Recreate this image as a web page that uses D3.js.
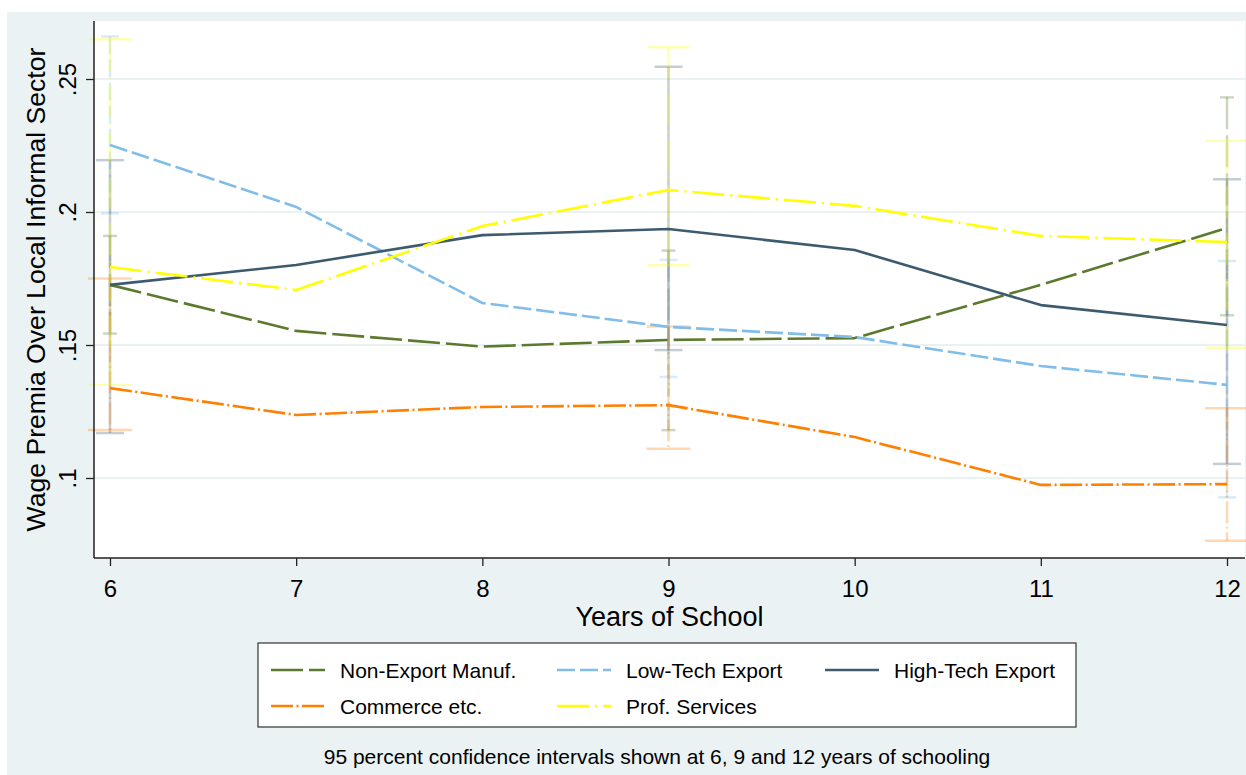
<!DOCTYPE html>
<html>
<head>
<meta charset="utf-8">
<script src="https://cdn.jsdelivr.net/npm/d3@7/dist/d3.min.js"></script>
<style>
  html, body { margin: 0; padding: 0; background: #ffffff; }
  svg { display: block; }
  text { font-family: "Liberation Sans", Arial, Helvetica, sans-serif; fill: #000; }
</style>
</head>
<body>
<svg id="chart" width="1246" height="775"></svg>
<script>
// Years of schooling on the x axis
const years = [6, 7, 8, 9, 10, 11, 12];

// Estimated wage premia by sector
const nonExport    = [0.1726, 0.1553, 0.1494, 0.1519, 0.1526, 0.1726, 0.1940];
const lowTech      = [0.2252, 0.2019, 0.1658, 0.1568, 0.1530, 0.1421, 0.1350];
const highTech     = [0.1726, 0.1801, 0.1913, 0.1936, 0.1857, 0.1650, 0.1575];
const commerce     = [0.1338, 0.1237, 0.1267, 0.1274, 0.1154, 0.0974, 0.0977];
const profServices = [0.1793, 0.1707, 0.1947, 0.2083, 0.2023, 0.1910, 0.1887];

// 95% confidence intervals [low, high] at selected years
const ciYears = [6, 9, 12];
const nonExportCI    = [[0.1543, 0.1910], [0.1180, 0.1855], [0.1612, 0.2431]];
const lowTechCI      = [[0.1995, 0.2660], [0.1380, 0.1820], [0.0927, 0.1816]];
const highTechCI     = [[0.1169, 0.2195], [0.1481, 0.2546], [0.1053, 0.2123]];
const commerceCI     = [[0.1180, 0.1750], [0.1110, 0.1570], [0.0764, 0.1262]];
const profServicesCI = [[0.1351, 0.2649], [0.1800, 0.2619], [0.1490, 0.2268]];

// Axis ticks
const yTicks = [0.10, 0.15, 0.20, 0.25];
const yTickLabels = [".1", ".15", ".2", ".25"];

const seriesNames = ["Non-Export Manuf.", "Low-Tech Export", "High-Tech Export", "Commerce etc.", "Prof. Services"];

const series = [
  { name: seriesNames[0], values: nonExport,    ci: nonExportCI,    color: "#5b7a2e", dash: "32,6",         capW: 14 },
  { name: seriesNames[1], values: lowTech,      ci: lowTechCI,      color: "#80bde9", dash: "18,5",         capW: 18 },
  { name: seriesNames[2], values: highTech,     ci: highTechCI,     color: "#3d5a6f", dash: null,           capW: 28 },
  { name: seriesNames[3], values: commerce,     ci: commerceCI,     color: "#ff7f00", dash: "22,3.5,2,3.5", capW: 44 },
  { name: seriesNames[4], values: profServices, ci: profServicesCI, color: "#ffff00", dash: "32,6,2,6",     capW: 42 }
];

const svg = d3.select("#chart");

// Layout
const plot = { left: 94, right: 1245, top: 21, bottom: 558 };

// Outer graph region
svg.append("rect")
  .attr("x", 7).attr("y", 12)
  .attr("width", 1246 - 7).attr("height", 775 - 12)
  .attr("fill", "#eaf2f3");

// Plot region
svg.append("rect")
  .attr("x", plot.left).attr("y", plot.top)
  .attr("width", plot.right - plot.left).attr("height", plot.bottom - plot.top)
  .attr("fill", "#ffffff");

const x = d3.scaleLinear().domain([6, 12]).range([110, 1227]);
const y = d3.scaleLinear().domain([0.10, 0.25]).range([478, 79]);

// Grid lines
svg.append("g").selectAll("line")
  .data(yTicks)
  .join("line")
  .attr("x1", plot.left).attr("x2", plot.right)
  .attr("y1", d => y(d)).attr("y2", d => y(d))
  .attr("stroke", "#eaf2f3").attr("stroke-width", 2.2);

// Confidence intervals (faded spikes with caps)
const ciLayer = svg.append("g");
series.forEach(s => {
  const g = ciLayer.append("g")
    .attr("stroke", s.color)
    .attr("stroke-opacity", 0.3)
    .attr("stroke-width", 2.5)
    .attr("fill", "none");
  const rows = ciYears.map((yr, i) => ({ yr, lo: s.ci[i][0], hi: s.ci[i][1] }));
  g.selectAll("line.spike")
    .data(rows)
    .join("line")
    .attr("class", "spike")
    .attr("x1", d => x(d.yr)).attr("x2", d => x(d.yr))
    .attr("y1", d => y(d.hi)).attr("y2", d => y(d.lo))
    .attr("stroke-dasharray", s.dash);
  ["lo", "hi"].forEach(k => {
    g.selectAll("line.cap-" + k)
      .data(rows)
      .join("line")
      .attr("class", "cap-" + k)
      .attr("x1", d => x(d.yr) - s.capW / 2).attr("x2", d => x(d.yr) + s.capW / 2)
      .attr("y1", d => y(d[k])).attr("y2", d => y(d[k]));
  });
});

// Series lines
const line = d3.line()
  .x((d, i) => x(years[i]))
  .y(d => y(d));

series.forEach(s => {
  svg.append("path")
    .datum(s.values)
    .attr("d", line)
    .attr("fill", "none")
    .attr("stroke", s.color)
    .attr("stroke-width", 2.6)
    .attr("stroke-dasharray", s.dash)
    .attr("stroke-linejoin", "round");
});

// Y axis
const yAxis = svg.append("g")
  .attr("transform", `translate(${plot.left},0)`)
  .call(d3.axisLeft(y).tickValues(yTicks).tickSize(8)
    .tickFormat((d, i) => yTickLabels[i]));
yAxis.select(".domain").remove();
yAxis.selectAll(".tick line").attr("stroke", "#222").attr("stroke-width", 1.3);
yAxis.selectAll(".tick text")
  .attr("transform", "rotate(-90)")
  .attr("x", 0).attr("y", -27).attr("dy", null)
  .attr("text-anchor", "middle")
  .attr("dominant-baseline", "central")
  .style("font-size", "24px")
  .style("font-family", "'Liberation Sans', Arial, sans-serif");
svg.append("line")
  .attr("x1", plot.left).attr("x2", plot.left)
  .attr("y1", plot.top).attr("y2", plot.bottom)
  .attr("stroke", "#222").attr("stroke-width", 1.5);

// X axis
const xAxis = svg.append("g")
  .attr("transform", `translate(0,${plot.bottom})`)
  .call(d3.axisBottom(x).tickValues(years).tickSize(8).tickFormat(d3.format("d")));
xAxis.select(".domain").remove();
xAxis.selectAll(".tick line").attr("stroke", "#222").attr("stroke-width", 1.3);
xAxis.selectAll(".tick text")
  .attr("y", 22)
  .style("font-size", "24px")
  .style("font-family", "'Liberation Sans', Arial, sans-serif");
svg.append("line")
  .attr("x1", plot.left).attr("x2", plot.right)
  .attr("y1", plot.bottom).attr("y2", plot.bottom)
  .attr("stroke", "#222").attr("stroke-width", 1.5);

// Axis titles
svg.append("text")
  .attr("x", (plot.left + plot.right) / 2).attr("y", 626)
  .attr("text-anchor", "middle")
  .style("font-size", "27px")
  .text("Years of School");

svg.append("text")
  .attr("transform", `translate(45,${(plot.top + plot.bottom) / 2}) rotate(-90)`)
  .attr("text-anchor", "middle")
  .style("font-size", "26.6px")
  .text("Wage Premia Over Local Informal Sector");

// Legend
const legend = svg.append("g");
legend.append("rect")
  .attr("x", 258).attr("y", 643)
  .attr("width", 1076 - 258).attr("height", 727 - 643)
  .attr("fill", "#ffffff")
  .attr("stroke", "#333").attr("stroke-width", 1.2);

const colX = [340, 626, 894];
const rowY = [670, 706];
series.forEach((s, i) => {
  const cx = colX[i % 3];
  const cy = rowY[Math.floor(i / 3)];
  legend.append("line")
    .attr("x1", cx - 69).attr("x2", cx - 15)
    .attr("y1", cy).attr("y2", cy)
    .attr("stroke", s.color).attr("stroke-width", 2.6)
    .attr("stroke-dasharray", s.dash);
  legend.append("text")
    .attr("x", cx).attr("y", cy)
    .attr("dominant-baseline", "central")
    .style("font-size", "21px")
    .text(s.name);
});

// Note
svg.append("text")
  .attr("x", 657).attr("y", 764)
  .attr("text-anchor", "middle")
  .style("font-size", "21px")
  .text("95 percent confidence intervals shown at 6, 9 and 12 years of schooling");
</script>
</body>
</html>
